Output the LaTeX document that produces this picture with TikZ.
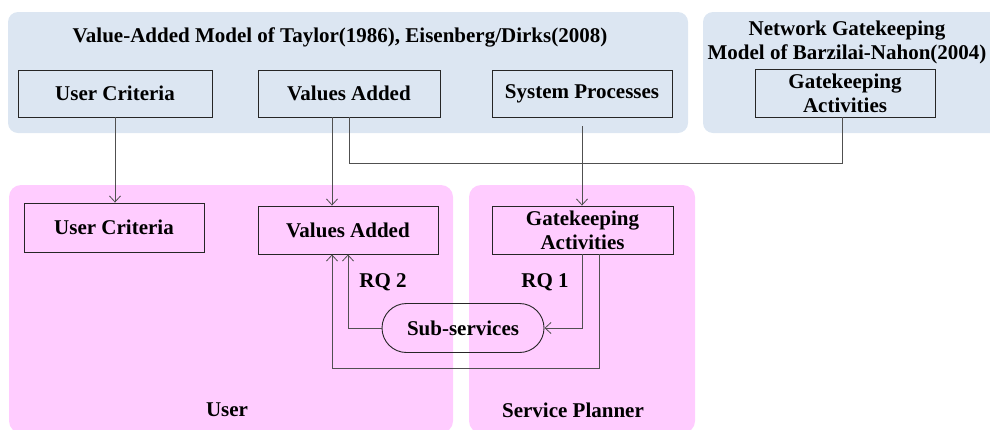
\documentclass[tikz,border=0pt]{standalone}
\usepackage{fontspec}
\setmainfont{Liberation Serif}
\usetikzlibrary{shapes.misc,arrows.meta}
\definecolor{panelblue}{HTML}{DCE6F2}
\definecolor{panelpink}{HTML}{FFCCFF}
\definecolor{linegray}{HTML}{505050}
\begin{document}
\begin{tikzpicture}[x=1pt,y=-1pt,
  txt/.style={font=\bfseries\fontsize{21}{24}\selectfont, align=center, inner sep=0pt},
  box/.style={txt, draw=black!85, line width=0.9pt},
  conn/.style={draw=linegray, line width=0.8pt},
  arr/.style={conn, -{Straight Barb[length=6pt,width=11pt,line width=0.8pt]}},
]
\useasboundingbox (0,0) rectangle (990,429);
% panels
\fill[panelblue,rounded corners=10pt] (8,12) rectangle (688,133);
\fill[panelblue,rounded corners=10pt] (703,12) rectangle (1010,133);
\fill[panelpink,rounded corners=12pt] (9,185) rectangle (453,433);
\fill[panelpink,rounded corners=12pt] (469,185) rectangle (695,433);
% titles
\node[txt] (t1) at (340,37) {Value-Added Model of Taylor(1986), Eisenberg/Dirks(2008)};
\node[txt] (t2) at (847,42) {Network Gatekeeping\\Model of Barzilai-Nahon(2004)};
% top boxes
\node[box, minimum width=194pt, minimum height=47pt] (uc1) at (115,93.5) {User Criteria};
\node[box, minimum width=182pt, minimum height=47pt] (va1) at (349,93.5) {Values Added};
\node[box, minimum width=180pt, minimum height=47pt] (sp) at (582,93.5) {System Processes};
\node[box, minimum width=180pt, minimum height=48pt] (ga1) at (845,93) {Gatekeeping\\Activities};
% bottom boxes
\node[box, minimum width=180pt, minimum height=49pt] (uc2) at (114,227.5) {User Criteria};
\node[box, minimum width=180pt, minimum height=48pt] (va2) at (348,230) {Values Added};
\node[box, minimum width=181pt, minimum height=48pt] (ga2) at (582.5,230) {Gatekeeping\\Activities};
\node[box, rounded rectangle, minimum width=162pt, minimum height=49pt] (sub) at (463,328) {Sub-services};
% labels
\node[txt] (rq2) at (383,282) {RQ 2};
\node[txt] (rq1) at (545,282) {RQ 1};
\node[txt] (user) at (227,410) {User};
\node[txt] (planner) at (573,410) {Service Planner};
% connectors
\draw[arr] (uc1.south) -- (uc1.south |- uc2.north);
\draw[arr] ([xshift=-17pt]va1.south) -- ([xshift=-17pt]va1.south |- va2.north);
\draw[conn] (va1.south) -- ++(0,46) -| ([xshift=-3pt]ga1.south);
\draw[arr] ([yshift=-9pt]sp.south) -- (sp.south |- ga2.north);
\draw[arr] (ga2.south) |- (sub.east);
\draw[arr] ([xshift=16.5pt]ga2.south) -- ++(0,114) -| ([xshift=-16pt]va2.south);
\draw[arr] (sub.west) -| (va2.south);
\end{tikzpicture}
\end{document}
